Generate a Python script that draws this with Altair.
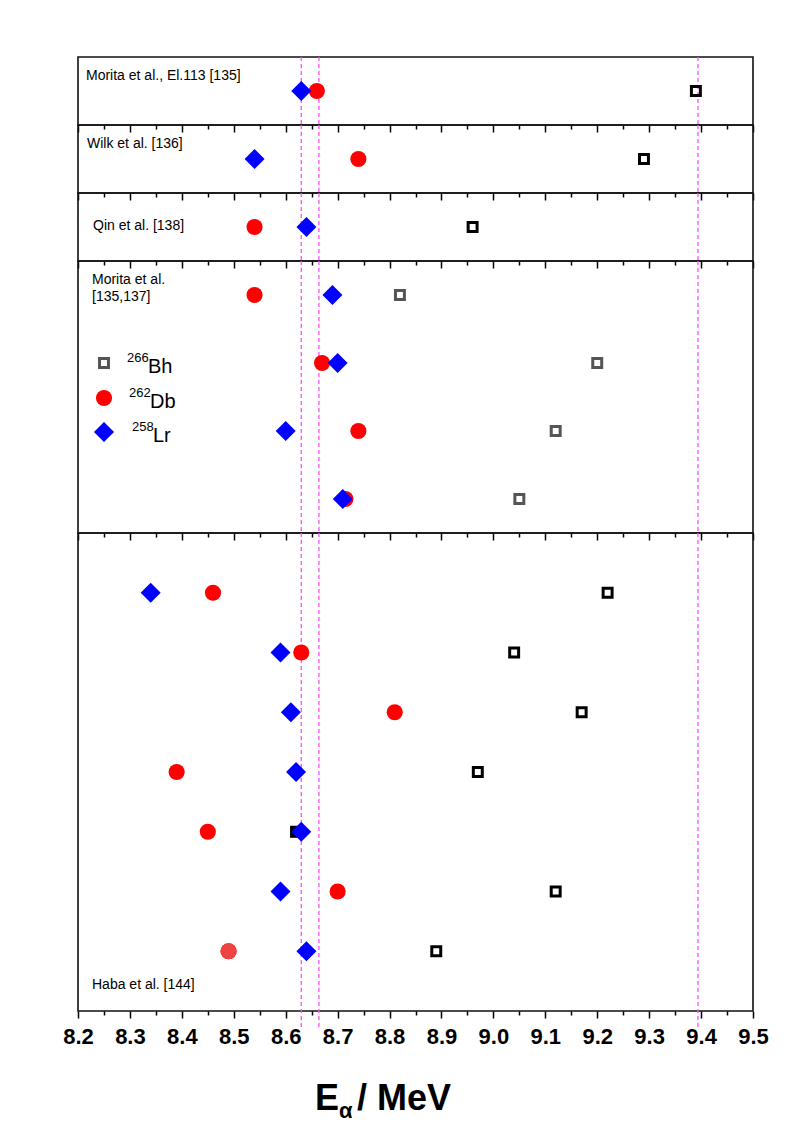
import altair as alt
import pandas as pd

# ---------------- data ----------------
x_domain = [8.2, 9.5]
ref_lines = [8.63, 8.664, 9.394]          # dashed reference energies (MeV)

panel_labels = [
    ["Morita et al., El.113 [135]"],
    ["Wilk et al. [136]"],
    ["Qin et al. [138]"],
    ["Morita et al.", "[135,137]"],
    ["Haba et al. [144]"],
]

# one entry per decay chain (row)
row_panel = [0, 1, 2, 3, 3, 3, 3, 4, 4, 4, 4, 4, 4, 4]
row_index = [0, 0, 0, 0, 1, 2, 3, 0, 1, 2, 3, 4, 5, 6]
lr_258 = [8.63, 8.54, 8.64, 8.69, 8.70, 8.60, 8.71, 8.34, 8.59, 8.61, 8.62, 8.63, 8.59, 8.64]
db_262 = [8.66, 8.74, 8.54, 8.54, 8.67, 8.74, 8.715, 8.46, 8.63, 8.81, 8.39, 8.45, 8.70, 8.49]
bh_266 = [9.39, 9.29, 8.96, 8.82, 9.20, 9.12, 9.05, 9.22, 9.04, 9.17, 8.97, 8.62, 9.12, 8.89]

legend_mass = ["266", "262", "258"]
legend_name = ["Bh", "Db", "Lr"]

# ---------------- layout / style ----------------
W = 675
panel_heights = [68, 68, 68, 272, 478]
panel_units = [1, 1, 1, 4, 8]
row_offset = [0.5, 0.5, 0.5, 0.5, 1.0]
label_x = [8, 9, 15, 14, 14]
label_y = [[19], [19], [33], [19, 36], [452]]

FONT = "Liberation Sans"
MAGENTA = "#ff4dff"

rows = []
for i in range(len(row_panel)):
    p = row_panel[i]
    pos = row_index[i] + row_offset[p]
    rows.append(dict(panel=p, row=row_index[i], pos=pos, nuc="Bh", E=bh_266[i]))
    rows.append(dict(panel=p, row=row_index[i], pos=pos, nuc="Db", E=db_262[i]))
    rows.append(dict(panel=p, row=row_index[i], pos=pos, nuc="Lr", E=lr_258[i]))
df = pd.DataFrame(rows)
ref_df = pd.DataFrame({"E": ref_lines})

tick_values = [round(8.2 + 0.05 * k, 2) for k in range(27)]
major_test = "abs(datum.value*10 - round(datum.value*10)) < 0.01"


def x_enc(last):
    axis = alt.Axis(
        values=tick_values,
        title=None,
        domain=False,
        grid=False,
        tickColor="black",
        tickWidth=1.5,
        tickSize={"condition": {"test": major_test, "value": 7}, "value": 4},
        labels=last,
        labelExpr=f"{major_test} ? format(datum.value, '.1f') : ''",
        labelOverlap=False,
        labelFont=FONT,
        labelFontSize=22,
        labelFontWeight="bold",
        labelColor="black",
        labelPadding=8,
        labelFlush=False,
    )
    return alt.X("E:Q", scale=alt.Scale(domain=x_domain, nice=False, zero=False), axis=axis)


def panel(p):
    last = p == 4
    h = panel_heights[p]
    d = df[df.panel == p]
    y = alt.Y("pos:Q", scale=alt.Scale(domain=[0, panel_units[p]], reverse=True, nice=False, zero=False), axis=None)
    xe = x_enc(last)

    rule_enc = dict(x=xe)
    if last:
        rule_enc.update(y=alt.value(0), y2=alt.value(h + 17))
    layers = [
        alt.Chart(ref_df).mark_rule(color=MAGENTA, strokeDash=[4, 3], strokeWidth=1.3).encode(**rule_enc)
    ]
    bh_color = "#555555" if p == 3 else "black"
    bh = d[d.nuc == "Bh"]
    layers.append(
        alt.Chart(bh).mark_point(shape="square", filled=False, size=80, strokeWidth=3, color=bh_color, opacity=1)
        .encode(x=xe, y=y)
    )
    if last:
        # one Bh marker drawn solid in the Haba panel
        layers.append(
            alt.Chart(bh[bh.row == 4]).mark_point(shape="square", filled=True, size=120, color="black", opacity=1)
            .encode(x=xe, y=y)
        )
    db = d[d.nuc == "Db"]
    layers.append(
        alt.Chart(db).mark_point(shape="circle", filled=True, size=260, color="#ff0000", opacity=1)
        .encode(x=xe, y=y)
    )
    if last:
        layers.append(
            alt.Chart(db[db.row == 6]).mark_point(shape="circle", filled=True, size=260, color="#ef4444", opacity=1)
            .encode(x=xe, y=y)
        )
    layers.append(
        alt.Chart(d[d.nuc == "Lr"]).mark_point(shape="diamond", filled=True, size=400, color="#0000ff", opacity=1)
        .encode(x=xe, y=y)
    )
    # panel annotation
    for line, ly in zip(panel_labels[p], label_y[p]):
        layers.append(
            alt.Chart(pd.DataFrame({"t": [line]}))
            .mark_text(align="left", baseline="middle", font=FONT, fontSize=14, color="black")
            .encode(x=alt.value(label_x[p]), y=alt.value(ly), text="t:N")
        )
    if p == 3:
        leg_y = [102, 137, 171]
        shapes = [
            dict(shape="square", filled=False, size=80, strokeWidth=3, color="#555555"),
            dict(shape="circle", filled=True, size=260, color="#ff0000"),
            dict(shape="diamond", filled=True, size=400, color="#0000ff"),
        ]
        mass_x = [49, 51, 54]
        for k in range(3):
            layers.append(
                alt.Chart(pd.DataFrame({"n": [legend_name[k]]}))
                .mark_point(opacity=1, **shapes[k])
                .encode(x=alt.value(26), y=alt.value(leg_y[k]))
            )
            layers.append(
                alt.Chart(pd.DataFrame({"t": [legend_mass[k]]}))
                .mark_text(align="left", baseline="alphabetic", font=FONT, fontSize=13, color="black")
                .encode(x=alt.value(mass_x[k]), y=alt.value(leg_y[k] - 1), text="t:N")
            )
            layers.append(
                alt.Chart(pd.DataFrame({"t": [legend_name[k]]}))
                .mark_text(align="left", baseline="alphabetic", font=FONT, fontSize=20, color="black")
                .encode(x=alt.value(mass_x[k] + 21), y=alt.value(leg_y[k] + 10), text="t:N")
            )
    if last:
        title_parts = [("E", 237, 577, 36), ("\u03b1", 261, 585, 22), ("/ MeV", 279, 577, 36)]
        for t, tx, ty, fs in title_parts:
            layers.append(
                alt.Chart(pd.DataFrame({"t": [t]}))
                .mark_text(align="left", baseline="alphabetic", font=FONT, fontSize=fs,
                           fontWeight="bold", color="black")
                .encode(x=alt.value(tx), y=alt.value(ty), text="t:N")
            )
    return alt.layer(*layers).properties(width=W, height=h)


chart = (
    alt.vconcat(*[panel(p) for p in range(5)], spacing=0, bounds="flush")
    .properties(padding={"left": 53, "top": 47, "right": 10, "bottom": 5}, background="white")
    .configure_view(stroke="#111111", strokeWidth=1.6)
)

chart.save("out.html", embed_options={"renderer": "svg", "actions": False})
